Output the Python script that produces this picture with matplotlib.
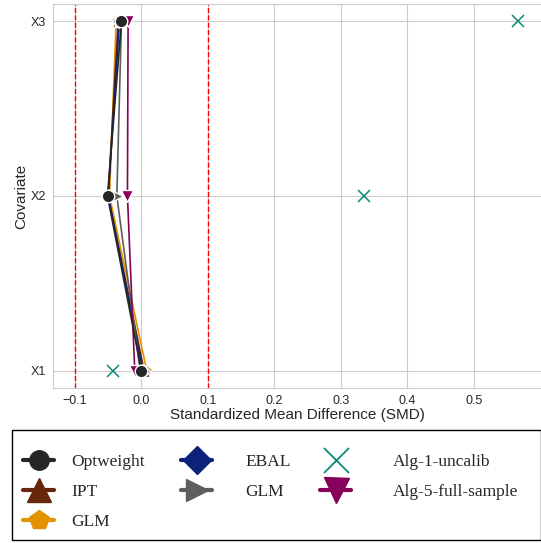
import matplotlib
matplotlib.use("Agg")
import matplotlib.pyplot as plt
from matplotlib.lines import Line2D
from matplotlib.patches import Rectangle
import seaborn as sns

sns.set_style("whitegrid")
plt.rcParams['font.family'] = ['Liberation Sans', 'DejaVu Sans']

# covariate balance: SMD per covariate and weighting method
covariates = ["X1", "X2", "X3"]
methods = ["Optweight", "IPT", "GLM", "EBAL", "GLM", "Alg-1-uncalib", "Alg-5-full-sample"]
smd_optweight = [0.000, -0.051, -0.030]
smd_ipt = [0.004, -0.050, -0.035]
smd_glm = [0.008, -0.048, -0.038]
smd_ebal = [0.002, -0.050, -0.033]
smd_glm2 = [-0.002, -0.037, -0.030]
smd_alg1 = [-0.043, 0.335, 0.567]
smd_alg5 = [-0.010, -0.021, -0.020]

series = [smd_optweight, smd_ipt, smd_glm, smd_ebal, smd_glm2, smd_alg1, smd_alg5]
colors = ["#262626", "#66270a", "#e39200", "#0c2279", "#5e5e5e", "#0b8a73", "#87005a"]
markers = ["o", "^", "p", "D", ">", "x", "v"]
msizes = [9, 8, 8, 7, 8, 9, 9]
zorders = [9, 4, 3, 5, 6, 7, 8]

fig = plt.figure(figsize=(5.41, 5.43), dpi=100)
ax = fig.add_axes([0.098, 0.2855, 0.904, 0.7071])

ypos = list(range(len(covariates)))
for vals, name, c, m, ms, z in zip(series, methods, colors, markers, msizes, zorders):
    if m == "x":
        ax.plot(vals, ypos, linestyle="none", marker=m, color=c, ms=ms,
                mew=1.1, zorder=z, label=name)
    else:
        ax.plot(vals, ypos, color=c, lw=1.2, marker=m, ms=ms,
                mec="white", mew=1.0, zorder=z, label=name)

ax.axvline(-0.1, color="red", ls="--", lw=1)
ax.axvline(0.1, color="red", ls="--", lw=1)

ax.set_yticks(ypos)
ax.set_yticklabels(covariates)
ax.set_xticks([-0.1, 0.0, 0.1, 0.2, 0.3, 0.4, 0.5])
ax.set_xlim(-0.133, 0.603)
ax.set_ylim(-0.1, 2.1)
ax.tick_params(labelsize=9, pad=1.5, labelcolor="#262626")
ax.set_xlabel("Standardized Mean Difference (SMD)", fontsize=11, labelpad=1)
ax.set_ylabel("Covariate", fontsize=11, labelpad=2)
for s in ax.spines.values():
    s.set_color("#cccccc")

# big legend handles, one legend per column
leg_ms = [14, 17, 15, 14, 16, 18, 18]
handles = []
for name, c, m, ms in zip(methods, colors, markers, leg_ms):
    if m == "x":
        handles.append(Line2D([], [], ls="none", marker=m, color=c, ms=ms, mew=1.3))
    else:
        handles.append(Line2D([], [], color=c, lw=3.0, marker=m, ms=ms, mec=c))

groups = [(0, 3, 0.0425, 1.0), (3, 5, 0.3346, 1.9), (5, 7, 0.5915, 2.4)]
for i0, i1, x0, pad in groups:
    lg = fig.legend(handles=handles[i0:i1], labels=methods[i0:i1],
                    loc="upper left", bbox_to_anchor=(x0, 0.1635),
                    frameon=False, handlelength=1.8, handletextpad=pad,
                    prop={"family": "Liberation Serif", "size": 12.5},
                    labelspacing=0.8, borderpad=0, borderaxespad=0)

fig.patches.append(Rectangle((0.0222, 0.0055), 0.977, 0.2026, transform=fig.transFigure,
                             fill=False, edgecolor="black", lw=1.0))

fig.savefig("out.png", dpi=100)
